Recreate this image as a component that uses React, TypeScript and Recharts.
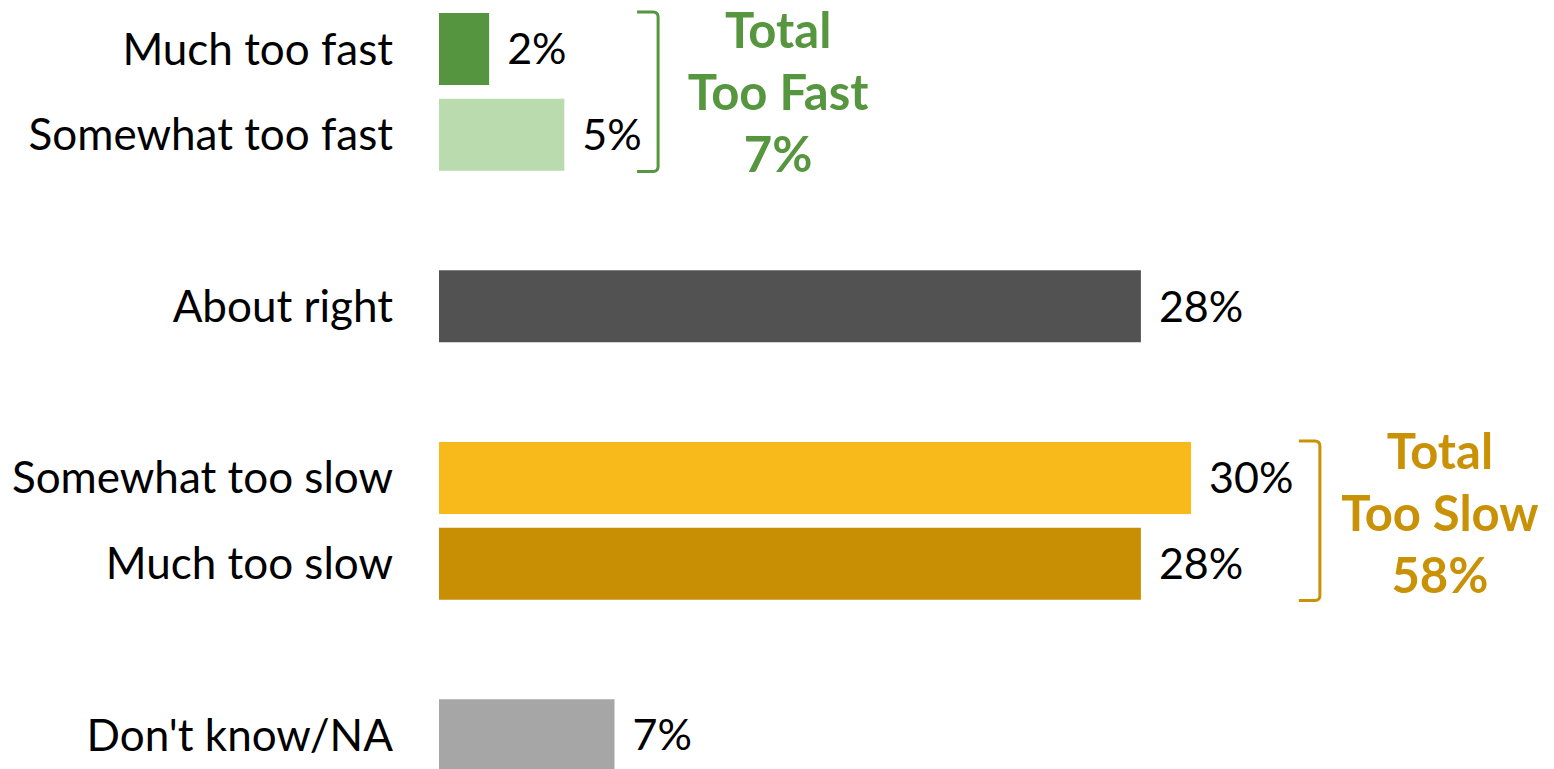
import React from "react";
import { BarChart, Bar, XAxis, YAxis, Cell, LabelList, ReferenceArea } from "recharts";

// ---- data ----
const categories = [
  "Much too fast",
  "Somewhat too fast",
  "",
  "About right",
  "",
  "Somewhat too slow",
  "Much too slow",
  "",
  "Don't know/NA",
];
const values: (number | null)[] = [2, 5, null, 28, null, 30, 28, null, 7];
const barColors = ["#56953F", "#B9DBAE", "#ffffff", "#525252", "#ffffff", "#F8B91B", "#C88F04", "#ffffff", "#A6A6A6"];

const fastLines = ["Total", "Too Fast", "7%"];
const slowLines = ["Total", "Too Slow", "58%"];

// ---- annotation config (x in data units, rows by id) ----
const groups = [
  { from: "r0", to: "r1", x1: 7.9, x2: 8.74, color: "#56963F", lines: fastLines, textDy: -1 },
  { from: "r5", to: "r6", x1: 34.3, x2: 35.14, color: "#C99106", lines: slowLines, textDy: -9 },
];

const data = categories.map((name, i) => ({ id: `r${i}`, name, value: values[i] }));

const FONT = "Lato, 'Noto Sans', sans-serif";
const FS = 44;
const LABEL_FS = 43;
const BOLD_FS = 49;

const Bracket = ({ x, y, width, height, color, lines, textDy }: any) => {
  const inset = 6;
  const top = y + inset;
  const bot = y + height - inset;
  const xr = x + width;
  const r = 5;
  const d = `M ${x} ${top} L ${xr - r} ${top} Q ${xr} ${top} ${xr} ${top + r} L ${xr} ${bot - r} Q ${xr} ${bot} ${xr - r} ${bot} L ${x} ${bot}`;
  const mid = (top + bot) / 2 + textDy;
  const spacing = 62;
  const tx = xr + 120;
  return (
    <g>
      <path d={d} fill="none" stroke={color} strokeWidth={3} />
      {lines.map((t: string, i: number) => (
        <text
          key={i}
          x={tx}
          y={mid + (i - 1) * spacing}
          textAnchor="middle"
          dominantBaseline="central"
          fontFamily={FONT}
          fontWeight="bold"
          fontSize={BOLD_FS}
          fill={color}
        >
          {t}
        </text>
      ))}
    </g>
  );
};

export default function App() {
  return (
    <div style={{ position: "fixed", left: 0, top: 0, width: 1554, height: 769, overflow: "hidden", background: "#fff" }}>
      <BarChart
        width={1554}
        height={784}
        data={data}
        layout="vertical"
        margin={{ top: 6, right: 12, bottom: 6, left: 0 }}
      >
        <XAxis type="number" domain={[0, 44]} hide />
        <YAxis
          type="category"
          dataKey="id"
          width={439}
          axisLine={false}
          tickLine={false}
          tickSize={0}
          tickMargin={46}
          interval={0}
          tickFormatter={(id: string) => {
            const row = data.find((d) => d.id === id);
            return row ? row.name : "";
          }}
          tick={{ fontSize: FS, fill: "#000", fontFamily: FONT }}
        />
        <Bar dataKey="value" barSize={72} isAnimationActive={false}>
          {data.map((d, i) => (
            <Cell key={d.id} fill={barColors[i]} />
          ))}
          <LabelList
            dataKey="value"
            position="right"
            offset={18}
            formatter={(v: any) => (v == null ? "" : `${v}%`)}
            style={{ fontSize: LABEL_FS, fill: "#000", fontFamily: FONT }}
          />
        </Bar>
        {groups.map((g) => (
          <ReferenceArea
            key={g.from}
            x1={g.x1}
            x2={g.x2}
            y1={g.from}
            y2={g.to}
            ifOverflow="visible"
            shape={(p: any) => <Bracket {...p} color={g.color} lines={g.lines} textDy={g.textDy} />}
          />
        ))}
      </BarChart>
    </div>
  );
}
